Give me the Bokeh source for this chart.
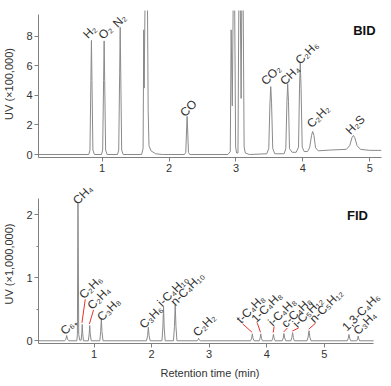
import math
from bokeh.plotting import figure
from bokeh.models import ColumnDataSource, Label, Range1d, FixedTicker
from bokeh.layouts import column
from bokeh.core.properties import value
from bokeh.embed import file_html
from bokeh.resources import INLINE

# ---------------- data: BID trace (retention time, UV x100,000) ----------------
bid_t = [0.05, 0.80, 0.818, 0.832, 0.84, 0.848, 0.862, 0.885,
         0.99, 1.008, 1.022, 1.03, 1.038, 1.052, 1.075,
         1.23, 1.248, 1.262, 1.27, 1.278, 1.292, 1.315,
         1.59, 1.612, 1.622, 1.628, 1.645, 1.675, 1.688, 1.70, 1.73, 1.80, 1.90,
         2.23, 2.25, 2.263, 2.27, 2.277, 2.29, 2.31,
         2.88, 2.915, 2.928, 2.945, 2.962, 2.978, 2.995, 3.01, 3.03, 3.045, 3.062,
         3.077, 3.09, 3.105, 3.122, 3.14, 3.2,
         3.46, 3.49, 3.508, 3.52, 3.532, 3.55, 3.58,
         3.72, 3.745, 3.762, 3.773, 3.785, 3.80, 3.84,
         3.90, 3.935, 3.95, 3.961, 3.973, 3.99, 4.02,
         4.07, 4.10, 4.13, 4.146, 4.165, 4.19, 4.23,
         4.40, 4.65, 4.70, 4.735, 4.755, 4.775, 4.81, 4.86, 5.0, 5.175]
bid_v = [0, 0, 0.3, 5.0, 7.73, 5.0, 0.3, 0,
         0, 0.3, 5.0, 7.7, 5.0, 0.3, 0,
         0, 0.3, 5.5, 8.63, 5.5, 0.3, 0,
         0, 0.4, 8.45, 4.5, 12, 12, 3.0, 0.6, 0.25, 0.05, 0,
         0, 0.15, 1.8, 2.58, 1.8, 0.15, 0,
         0, 0.2, 8.45, 3.3, 12, 12, 0.5, 0.1, 0.1, 12, 12,
         3.8, 12, 12, 0.5, 0.1, 0,
         0.05, 0.4, 3.5, 4.6, 3.5, 0.4, 0.05,
         0.05, 0.4, 3.6, 4.8, 3.6, 0.4, 0.15,
         0.15, 0.5, 4.5, 6.2, 4.5, 0.5, 0.2,
         0.2, 0.45, 1.3, 1.56, 1.3, 0.45, 0.25,
         0.3, 0.35, 0.6, 1.15, 1.29, 1.15, 0.6, 0.35, 0.28, 0.28]

bid_names = ["H\u2082", "O\u2082", "N\u2082", "CO", "CO\u2082", "CH\u2084",
             "C\u2082H\u2086", "C\u2082H\u2082", "H\u2082S"]
bid_label_x = [0.745, 0.975, 1.19, 2.195, 3.405, 3.69, 3.92, 4.09, 4.67]
bid_label_y = [8.0, 7.95, 8.75, 2.7, 4.85, 4.85, 6.25, 1.95, 1.5]

# ---------------- data: FID trace (retention time, UV x1,000,000) ----------------
fid_t = [0.034, 0.49, 0.51, 0.524, 0.538, 0.56,
         0.70, 0.71, 0.716, 0.72, 0.725, 0.733, 0.75,
         0.775, 0.786, 0.794, 0.802, 0.815,
         0.90, 0.915, 0.924, 0.933, 0.95,
         1.10, 1.115, 1.126, 1.137, 1.155,
         1.91, 1.93, 1.943, 1.956, 1.975,
         2.18, 2.196, 2.207, 2.218, 2.235,
         2.38, 2.397, 2.41, 2.423, 2.44,
         2.79, 2.806, 2.816, 2.826, 2.845,
         3.72, 3.738, 3.75, 3.762, 3.78,
         3.87, 3.885, 3.897, 3.909, 3.925,
         4.09, 4.105, 4.117, 4.129, 4.145,
         4.27, 4.287, 4.30, 4.313, 4.33,
         4.42, 4.437, 4.45, 4.463, 4.48,
         4.70, 4.72, 4.735, 4.75, 4.77,
         5.40, 5.418, 5.43, 5.442, 5.46,
         5.565, 5.58, 5.59, 5.60, 5.615, 5.86]
fid_v = [0, 0, 0.025, 0.084, 0.025, 0,
         0, 0.1, 1.5, 2.18, 1.5, 0.1, 0.01,
         0.01, 0.12, 0.26, 0.12, 0,
         0, 0.11, 0.243, 0.11, 0,
         0, 0.15, 0.35, 0.15, 0,
         0, 0.08, 0.216, 0.08, 0,
         0, 0.22, 0.55, 0.22, 0,
         0, 0.23, 0.57, 0.23, 0,
         0, 0.015, 0.04, 0.015, 0,
         0, 0.04, 0.11, 0.04, 0,
         0, 0.04, 0.11, 0.04, 0,
         0, 0.04, 0.105, 0.04, 0,
         0, 0.045, 0.115, 0.045, 0,
         0, 0.05, 0.13, 0.05, 0,
         0, 0.06, 0.16, 0.06, 0,
         0, 0.04, 0.1, 0.04, 0,
         0, 0.03, 0.075, 0.03, 0, 0]

fid_names = ["C\u2086\u208a", "CH\u2084", "C\u2082H\u2086", "C\u2082H\u2084", "C\u2083H\u2088",
             "C\u2083H\u2086", "i-C\u2084H\u2081\u2080", "n-C\u2084H\u2081\u2080", "C\u2082H\u2082",
             "t-C\u2084H\u2088", "1-C\u2084H\u2088", "i-C\u2084H\u2088", "c-C\u2084H\u2088",
             "i-C\u2085H\u2081\u2082", "n-C\u2085H\u2081\u2082", "1,3-C\u2084H\u2086", "C\u2083H\u2084"]
fid_peak_rt = [0.524, 0.72, 0.794, 0.924, 1.126, 1.943, 2.207, 2.41, 2.816,
               3.75, 3.897, 4.117, 4.30, 4.45, 4.735, 5.43, 5.59]
fid_peak_h = [0.084, 2.18, 0.26, 0.243, 0.35, 0.216, 0.55, 0.57, 0.04,
              0.11, 0.11, 0.105, 0.115, 0.13, 0.16, 0.1, 0.075]
fid_label_x = [0.448, 0.667, 0.777, 0.92, 1.09, 1.824, 2.137, 2.365, 2.753,
               3.51, 3.767, 4.06, 4.29, 4.485, 4.78, 5.346, 5.54]
fid_label_y = [0.13, 2.195, 0.70, 0.53, 0.346, 0.227, 0.576, 0.59, 0.10,
               0.31, 0.32, 0.267, 0.243, 0.243, 0.32, 0.187, 0.13]
fid_leader = [False, False, True, True, False, False, False, False, False,
              True, True, True, True, True, True, False, False]

x_ticks = [1, 2, 3, 4, 5]
bid_y_ticks = [0, 2, 4, 6, 8]
fid_y_ticks = [0, 1, 2]
fid_y_minor = [0.5, 1.5]

FONT = "Liberation Sans"
TRACE = "#8a8a8a"
AXIS = "#808080"
TXT = "#333333"
ANG = math.pi / 4
LBL_SIZE = "12px"


def style(p, yticks, yminor):
    p.outline_line_color = None
    p.xgrid.visible = False
    p.ygrid.visible = False
    p.background_fill_color = "white"
    p.border_fill_color = "white"
    p.xaxis.ticker = FixedTicker(ticks=x_ticks)
    p.yaxis.ticker = FixedTicker(ticks=yticks, minor_ticks=yminor)
    for ax in (p.xaxis[0], p.yaxis[0]):
        ax.axis_line_color = AXIS
        ax.major_tick_line_color = AXIS
        ax.major_tick_out = 4
        ax.major_tick_in = 0
        ax.minor_tick_line_color = AXIS
        ax.minor_tick_out = 2
        ax.minor_tick_in = 0
        ax.major_label_text_font = FONT
        ax.major_label_text_font_size = "11px"
        ax.major_label_text_color = TXT
        ax.major_label_standoff = 2
        ax.axis_label_text_font = FONT
        ax.axis_label_text_font_size = "11px"
        ax.axis_label_text_font_style = "normal"
        ax.axis_label_text_color = TXT


# ---------------- top panel (BID) ----------------
p1 = figure(width=391, height=180, x_range=Range1d(0.049, 5.175), y_range=Range1d(-0.203, 9.76),
            output_backend="svg", toolbar_location=None,
            min_border_left=36, min_border_right=10, min_border_top=10, min_border_bottom=23)
style(p1, bid_y_ticks, [])
p1.yaxis.bounds = (-0.203, 9.49)
p1.yaxis.axis_label = "UV (\u00d7100,000)"
p1.yaxis.axis_label_standoff = 8
p1.line(bid_t, bid_v, line_color=TRACE, line_width=1)
src1 = ColumnDataSource(dict(x=bid_label_x, y=bid_label_y, name=bid_names))
p1.text(x="x", y="y", text="name", source=src1, angle=ANG,
        text_font=value(FONT), text_font_size=LBL_SIZE, text_color=TXT,
        text_baseline="alphabetic", text_align="left")
p1.add_layout(Label(x=5.086, y=8.41, text="BID", text_align="right", text_baseline="alphabetic",
                    text_font=FONT, text_font_size="13px", text_font_style="bold", text_color="#111111"))

# ---------------- bottom panel (FID) ----------------
p2 = figure(width=391, height=206, x_range=Range1d(0.034, 5.995), y_range=Range1d(-0.043, 2.48),
            output_backend="svg", toolbar_location=None,
            min_border_left=36, min_border_right=2, min_border_top=4, min_border_bottom=43)
style(p2, fid_y_ticks, fid_y_minor)
p2.yaxis.bounds = (-0.043, 2.259)
p2.xaxis.bounds = (0.034, 5.86)
p2.yaxis.axis_label = "UV (\u00d71,000,000)"
p2.yaxis.axis_label_standoff = 8
p2.xaxis.axis_label = "Retention time (min)"
p2.xaxis.axis_label_standoff = 6
p2.line(fid_t, fid_v, line_color=TRACE, line_width=1)

lx0, ly0, lx1, ly1 = [], [], [], []
for rt, h, lx, ly, use in zip(fid_peak_rt, fid_peak_h, fid_label_x, fid_label_y, fid_leader):
    if use:
        lx0.append(rt - 0.005)
        ly0.append(h + 0.025)
        lx1.append(lx + 0.07)
        ly1.append(ly - 0.04)
p2.segment(lx0, ly0, lx1, ly1, line_color="#e8342c", line_width=1)

src2 = ColumnDataSource(dict(x=fid_label_x, y=fid_label_y, name=fid_names))
p2.text(x="x", y="y", text="name", source=src2, angle=ANG,
        text_font=value(FONT), text_font_size=LBL_SIZE, text_color=TXT,
        text_baseline="alphabetic", text_align="left")
p2.add_layout(Label(x=5.76, y=1.99, text="FID", text_align="right", text_baseline="alphabetic",
                    text_font=FONT, text_font_size="13px", text_font_style="bold", text_color="#111111"))

layout = column(p1, p2, spacing=0)
open("out.html", "w").write(file_html(layout, INLINE))
